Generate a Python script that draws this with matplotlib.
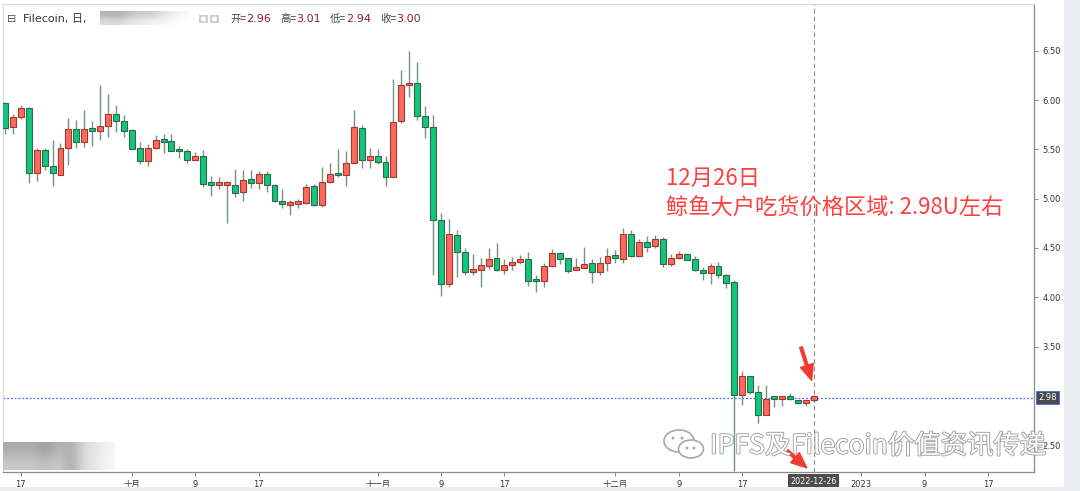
import matplotlib
matplotlib.use('Agg')
import matplotlib.pyplot as plt
import matplotlib.dates as mdates
import matplotlib.patheffects as pe
from matplotlib.patches import Rectangle, FancyArrowPatch, Ellipse
import numpy as np
import pandas as pd

plt.rcParams['font.family'] = ['DejaVu Sans', 'Noto Sans CJK SC']

W, H = 1080, 491

# daily candles, Filecoin, starting 2022-09-15
start_day = '2022-09-15'
opens = [5.97, 5.73, 5.83, 5.92, 5.26, 5.49, 5.33, 5.24, 5.52, 5.71,
         5.58, 5.72, 5.69, 5.74, 5.86, 5.79, 5.70, 5.52, 5.38, 5.52,
         5.61, 5.59, 5.50, 5.48, 5.39, 5.43, 5.15, 5.14, 5.14, 5.14,
         5.07, 5.20, 5.16, 5.25, 5.14, 4.98, 4.94, 4.95, 4.96, 5.13,
         4.94, 5.17, 5.25, 5.24, 5.36, 5.72, 5.39, 5.43, 5.37, 5.22,
         5.79, 6.15, 6.17, 5.84, 5.73, 4.78, 4.13, 4.63, 4.46, 4.26,
         4.28, 4.32, 4.40, 4.28, 4.33, 4.36, 4.39, 4.17, 4.16, 4.32,
         4.45, 4.40, 4.28, 4.30, 4.35, 4.26, 4.35, 4.42, 4.39, 4.64,
         4.42, 4.56, 4.52, 4.59, 4.34, 4.40, 4.44, 4.39, 4.28, 4.25,
         4.32, 4.23, 4.15, 3.01, 3.20, 3.04, 2.80, 2.98, 2.97, 2.99,
         2.96, 2.93, 2.96]
highs = [5.98, 5.86, 5.95, 5.93, 5.52, 5.52, 5.60, 5.57, 5.82, 5.80,
         5.90, 5.79, 6.15, 6.06, 5.95, 5.85, 5.71, 5.58, 5.56, 5.65,
         5.66, 5.66, 5.54, 5.50, 5.47, 5.49, 5.23, 5.22, 5.18, 5.30,
         5.29, 5.29, 5.28, 5.28, 5.15, 5.10, 4.99, 5.00, 5.15, 5.15,
         5.32, 5.36, 5.50, 5.48, 5.90, 5.75, 5.52, 5.50, 5.43, 6.22,
         6.31, 6.50, 6.39, 5.94, 5.85, 4.86, 4.79, 4.68, 4.50, 4.44,
         4.40, 4.50, 4.55, 4.39, 4.41, 4.43, 4.46, 4.23, 4.35, 4.49,
         4.46, 4.40, 4.40, 4.51, 4.39, 4.41, 4.50, 4.48, 4.70, 4.68,
         4.59, 4.62, 4.63, 4.61, 4.44, 4.47, 4.44, 4.42, 4.31, 4.35,
         4.36, 4.24, 4.18, 3.25, 3.20, 3.11, 3.11, 2.98, 2.99, 3.03,
         2.96, 2.96, 3.01]
lows = [5.66, 5.66, 5.81, 5.16, 5.18, 5.29, 5.13, 5.24, 5.34, 5.52,
        5.53, 5.54, 5.60, 5.63, 5.68, 5.63, 5.50, 5.35, 5.33, 5.50,
        5.46, 5.48, 5.41, 5.36, 5.39, 5.12, 5.03, 5.10, 4.75, 5.02,
        4.98, 5.11, 5.10, 5.07, 4.97, 4.91, 4.83, 4.91, 4.95, 4.93,
        4.92, 5.16, 5.22, 5.13, 5.36, 5.31, 5.31, 5.35, 5.13, 5.22,
        5.77, 6.03, 5.80, 5.62, 4.23, 4.01, 4.10, 4.21, 4.23, 4.23,
        4.10, 4.29, 4.27, 4.24, 4.28, 4.34, 4.11, 4.05, 4.10, 4.31,
        4.34, 4.25, 4.28, 4.30, 4.14, 4.23, 4.27, 4.35, 4.35, 4.41,
        4.41, 4.46, 4.50, 4.31, 4.32, 4.39, 4.38, 4.27, 4.18, 4.13,
        4.20, 4.09, 2.24, 2.91, 3.02, 2.72, 2.80, 2.89, 2.90, 2.96,
        2.92, 2.90, 2.94]
closes = [5.72, 5.83, 5.92, 5.26, 5.49, 5.33, 5.26, 5.52, 5.71, 5.58,
          5.71, 5.69, 5.74, 5.86, 5.79, 5.69, 5.51, 5.38, 5.52, 5.60,
          5.58, 5.48, 5.48, 5.39, 5.43, 5.15, 5.14, 5.15, 5.15, 5.06,
          5.19, 5.16, 5.25, 5.14, 4.98, 4.95, 4.95, 4.96, 5.12, 4.94,
          5.17, 5.25, 5.24, 5.36, 5.73, 5.39, 5.43, 5.37, 5.22, 5.78,
          6.15, 6.17, 5.84, 5.73, 4.78, 4.13, 4.64, 4.46, 4.26, 4.28,
          4.33, 4.39, 4.28, 4.33, 4.34, 4.39, 4.17, 4.16, 4.32, 4.45,
          4.39, 4.27, 4.31, 4.34, 4.26, 4.35, 4.42, 4.40, 4.64, 4.42,
          4.56, 4.51, 4.59, 4.34, 4.40, 4.44, 4.38, 4.28, 4.25, 4.32,
          4.23, 4.14, 3.01, 3.20, 3.04, 2.80, 2.97, 2.97, 2.98, 2.97,
          2.93, 2.96, 3.00]

xtick_days = ['2022-09-17', '2022-10-01', '2022-10-09', '2022-10-17',
              '2022-11-01', '2022-11-09', '2022-11-17', '2022-12-01',
              '2022-12-09', '2022-12-17', '2023-01-01', '2023-01-09',
              '2023-01-17']
xtick_labels = ['17', '十月', '9', '17', '十一月', '9', '17', '十二月',
                '9', '17', '2023', '9', '17']
ytick_vals = [2.5, 3.5, 4.0, 4.5, 5.0, 5.5, 6.0, 6.5]
last_price = 2.98
cross_day = '2022-12-26'
header_vals = [('开=', '2.96'), ('高=', '3.01'), ('低=', '2.94'), ('收=', '3.00')]

def fx(px):
    return px / W

def fy(py):
    return 1 - py / H

fig = plt.figure(figsize=(W / 100, H / 100), dpi=100)
fig.patch.set_facecolor('white')

# outer gray frame of the widget
fig.add_artist(Rectangle((fx(1064), 0), 1 - fx(1064), 1, transform=fig.transFigure,
                         facecolor='#eceef1', edgecolor='none'))
fig.add_artist(Rectangle((0, 0), 1, fy(487), transform=fig.transFigure,
                         facecolor='#eceef1', edgecolor='none'))

ax = fig.add_axes([fx(3), fy(472), fx(1034) - fx(3), fy(4) - fy(472)])

dates = pd.date_range(start_day, periods=len(opens), freq='D')
x = mdates.date2num(dates)
o = np.array(opens)
hi = np.array(highs)
lo = np.array(lows)
c = np.array(closes)
up = c >= o

wick_col = '#5f7f6e'
ax.vlines(x, lo, hi, color=wick_col, lw=1.0, alpha=0.85, zorder=2)
body_bot = np.minimum(o, c)
body_h = np.maximum(np.abs(c - o), 0.025)
ax.bar(x[up], body_h[up], bottom=body_bot[up], width=0.75,
       color='#fa6a5e', edgecolor='#a3382f', linewidth=0.8, zorder=3)
ax.bar(x[~up], body_h[~up], bottom=body_bot[~up], width=0.75,
       color='#12c67c', edgecolor='#2d6a4c', linewidth=0.8, zorder=3)

ax.set_xlim(x[0] - 0.25, x[0] + 129.8)
ax.set_ylim(2.226, 6.977)

# crosshair + last price line
xc = mdates.date2num(pd.Timestamp(cross_day))
ax.axvline(xc, color='#8c8c8c', ls=(0, (4, 3)), lw=0.8, zorder=1)
ax.axhline(last_price, color='#3e6ff2', ls=(0, (1.5, 1.5)), lw=0.9, zorder=1)

# axes styling
for s in ['top', 'left']:
    ax.spines[s].set_color('#d6d9dd')
    ax.spines[s].set_linewidth(0.8)
for s in ['right', 'bottom']:
    ax.spines[s].set_color('#8a8a8a')
    ax.spines[s].set_linewidth(0.9)

ax.yaxis.tick_right()
ax.set_yticks(ytick_vals)
ax.set_yticklabels(['%.2f' % v for v in ytick_vals])
ax.set_xticks(mdates.date2num(pd.to_datetime(xtick_days)))
ax.set_xticklabels(xtick_labels)
ax.tick_params(axis='both', length=3, width=0.7, color='#8a8a8a',
               labelsize=6, labelcolor='#333333', pad=3)

# price tag on the right
ax.text(1.004, last_price, '%.2f' % last_price, transform=ax.get_yaxis_transform(),
        ha='left', va='center', fontsize=6, color='white', zorder=10,
        bbox=dict(boxstyle='square,pad=0.25', facecolor='#4a4a4a', edgecolor='#3e6ff2', lw=0.6),
        clip_on=False)

# date tag under the crosshair
ax.text(xc, -0.02, cross_day, transform=ax.get_xaxis_transform(),
        ha='center', va='center', fontsize=5.8, color='white', zorder=10,
        bbox=dict(boxstyle='square,pad=0.3', facecolor='#4d4d4d', edgecolor='none'),
        clip_on=False)

# header line
fig.text(fx(7), fy(19), '⊟', fontsize=8, color='#555555', va='center')
fig.text(fx(23), fy(19), 'Filecoin, 日,', fontsize=8, color='#333333', va='center')
hx = 230
for lab, val in header_vals:
    t1 = fig.text(fx(hx), fy(19), lab, fontsize=7.5, color='#444444', va='center',
                  family=['Noto Sans CJK SC'])
    fig.text(fx(hx + 16), fy(19), val, fontsize=8, color='#8b2020', va='center')
    hx += 50
for ix in [199, 210]:
    fig.add_artist(Rectangle((fx(ix), fy(23)), fx(9), 8 / H, transform=fig.transFigure,
                             facecolor='#cfcfcf', edgecolor='none'))
    fig.add_artist(Ellipse((fx(ix + 4.5), fy(19)), fx(5), 5 / H, transform=fig.transFigure,
                           facecolor='white', edgecolor='none'))

# blurred (pixelated) name blocks
blur1 = fig.add_axes([fx(100), fy(25), fx(88), 14 / H])
blur1.imshow(np.array([[0.70, 0.68, 0.72, 0.80, 0.78, 0.86, 0.92, 0.97],
                       [0.88, 0.84, 0.90, 0.93, 0.95, 0.97, 0.99, 1.0]]),
             cmap='gray', vmin=0, vmax=1, aspect='auto', interpolation='bicubic')
blur1.axis('off')
blur2 = fig.add_axes([fx(3), fy(470), fx(112), 28 / H])
blur2.imshow(np.array([[0.66, 0.66, 0.67, 0.60, 0.72, 0.66, 0.86, 0.90, 0.96],
                       [0.80, 0.78, 0.80, 0.74, 0.82, 0.64, 0.88, 0.90, 0.97]]),
             cmap='gray', vmin=0, vmax=1, aspect='auto', interpolation='bicubic')
blur2.axis('off')

# annotation
fig.text(fx(666), fy(178), '12月26日', fontsize=16, color='#ff4040', va='center',
         family=['Noto Sans CJK SC'])
fig.text(fx(666), fy(208), '鲸鱼大户吃货价格区域: 2.98U左右', fontsize=16,
         color='#ff4040', va='center', family=['Noto Sans CJK SC'])

arrow_kw = dict(arrowstyle='simple,head_length=0.7,head_width=0.6,tail_width=0.12',
                mutation_scale=16, color='#f23a30', zorder=12, clip_on=False)
ax.add_patch(FancyArrowPatch((x[0] + 100.3, 3.52), (x[0] + 101.85, 3.13), **arrow_kw))
ax.add_patch(FancyArrowPatch((x[0] + 98.4, 2.46), (x[0] + 101.4, 2.25), **arrow_kw))

# watermark
icon = fig.add_axes([fx(661), fy(461), fx(45), 34 / H])
icon.set_xlim(0, 45)
icon.set_ylim(34, 0)
icon.add_patch(Ellipse((18, 14), 30, 22, facecolor='white', edgecolor='#a8a8a8', lw=1.2))
icon.add_patch(Ellipse((30, 22), 25, 18, facecolor='white', edgecolor='#a8a8a8', lw=1.2))
for ex, ey in [(12, 11), (21, 11), (26, 21), (33, 21)]:
    icon.add_patch(Ellipse((ex, ey), 3, 3, facecolor='#a8a8a8', edgecolor='none'))
icon.axis('off')
fig.text(fx(710), fy(446), 'IPFS及Filecoin价值资讯传递', fontsize=19, color='white',
         va='center', family=['Noto Sans CJK SC'], zorder=20,
         path_effects=[pe.withStroke(linewidth=1.3, foreground='#a0a0a0')])

fig.savefig('out.png', dpi=100)
